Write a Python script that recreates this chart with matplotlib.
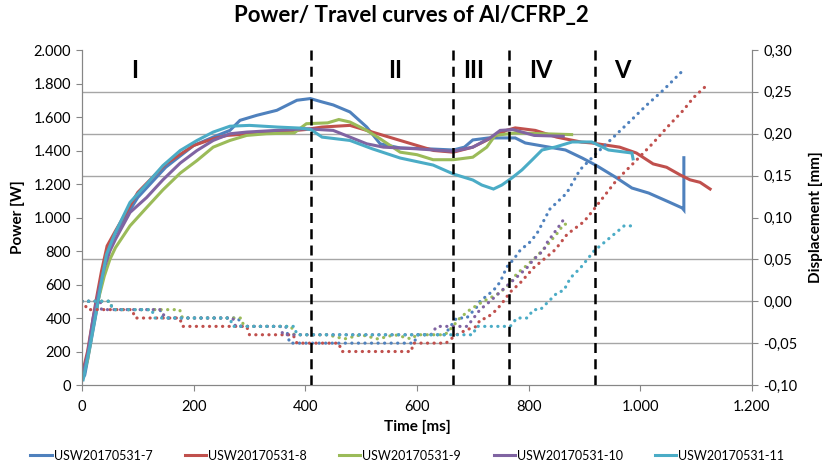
import matplotlib
matplotlib.use('Agg')
import matplotlib.pyplot as plt
from matplotlib.ticker import FuncFormatter

plt.rcParams['font.family'] = ['Lato', 'DejaVu Sans']

names = ['USW20170531-7', 'USW20170531-8', 'USW20170531-9',
         'USW20170531-10', 'USW20170531-11']
colors = ['#4F81BD', '#C0504D', '#9BBB59', '#8064A2', '#4BACC6']

# power curves [W] (time [ms], power)
t_p7 = [0, 5, 14, 26, 35, 44, 59, 100, 150, 200, 235, 265, 283, 313, 349, 361,
        385, 409, 430, 450, 480, 510, 534, 570, 620, 665, 685, 700, 728, 776,
        794, 866, 896, 920, 955, 985, 1015, 1051, 1075, 1078, 1078]
p7 = [30, 60, 220, 440, 620, 780, 900, 1120, 1300, 1430, 1480, 1520, 1580, 1610,
      1640, 1660, 1700, 1710, 1690, 1672, 1630, 1540, 1440, 1415, 1410, 1403,
      1420, 1463, 1475, 1475, 1445, 1403, 1355, 1313, 1242, 1176, 1146, 1093,
      1057, 1045, 1357]
t_p8 = [0, 10, 25, 35, 45, 60, 100, 150, 200, 235, 260, 300, 350, 400, 430, 480,
        510, 540, 570, 600, 630, 665, 700, 730, 760, 776, 812, 850, 895, 913,
        963, 993, 1023, 1047, 1071, 1089, 1107, 1125]
p8 = [60, 200, 500, 680, 830, 920, 1150, 1320, 1430, 1470, 1490, 1500, 1510,
      1525, 1540, 1550, 1520, 1490, 1460, 1430, 1400, 1390, 1420, 1470, 1520,
      1535, 1520, 1480, 1450, 1445, 1420, 1385, 1320, 1300, 1255, 1225, 1210,
      1170]
t_p9 = [0, 10, 20, 30, 40, 50, 60, 86, 116, 145, 176, 206, 235, 265, 295, 330,
        380, 402, 440, 460, 480, 510, 534, 570, 600, 629, 665, 700, 725, 740,
        776, 877]
p9 = [40, 150, 350, 520, 650, 750, 820, 950, 1060, 1165, 1265, 1340, 1420, 1460,
      1490, 1500, 1505, 1560, 1565, 1585, 1570, 1520, 1470, 1390, 1375, 1345,
      1345, 1360, 1420, 1490, 1505, 1495]
t_p10 = [0, 10, 20, 30, 40, 50, 60, 86, 116, 145, 176, 206, 235, 265, 295, 400,
         450, 480, 510, 540, 600, 665, 700, 731, 749, 772, 810, 862]
p10 = [40, 180, 400, 560, 700, 800, 870, 1030, 1120, 1225, 1325, 1400, 1460,
       1500, 1510, 1530, 1520, 1480, 1440, 1420, 1410, 1395, 1420, 1475, 1520,
       1525, 1490, 1485]
t_p11 = [0, 2, 14, 26, 35, 44, 59, 86, 116, 145, 176, 206, 235, 265, 300, 350,
         390, 410, 430, 480, 520, 570, 629, 665, 700, 716, 737, 752, 770, 788,
         806, 824, 848, 878, 913, 943, 985, 987]
p11 = [30, 30, 229, 448, 620, 780, 905, 1090, 1200, 1310, 1400, 1460, 1510,
       1545, 1550, 1540, 1534, 1525, 1480, 1460, 1410, 1355, 1313, 1260, 1224,
       1194, 1170, 1194, 1236, 1284, 1343, 1403, 1421, 1451, 1451, 1403, 1385,
       1350]

# displacement curves [mm] (time [ms], travel)
t_d7 = [0, 50, 55, 140, 145, 280, 285, 365, 372, 595, 600, 650, 660, 671, 689,
        707, 713, 737, 749, 761, 773, 785, 803, 815, 838, 868, 892, 922, 952,
        988, 1011, 1041, 1059, 1077]
d7 = [0.0, 0.0, -0.01, -0.01, -0.02, -0.02, -0.03, -0.03, -0.05, -0.05, -0.04,
      -0.04, -0.03, -0.02, -0.02, -0.007, 0.0, 0.013, 0.023, 0.041, 0.05, 0.061,
      0.071, 0.081, 0.11, 0.129, 0.157, 0.177, 0.196, 0.219, 0.234, 0.252,
      0.264, 0.276]
t_d8 = [0, 5, 10, 90, 95, 175, 180, 295, 300, 378, 385, 460, 465, 590, 593, 652,
        659, 671, 689, 707, 713, 725, 743, 755, 767, 785, 809, 827, 845, 854,
        869, 899, 916, 958, 988, 1023, 1047, 1077, 1095, 1116, 1122]
d8 = [0.0, -0.004, -0.01, -0.01, -0.02, -0.02, -0.03, -0.03, -0.04, -0.04,
      -0.05, -0.05, -0.06, -0.06, -0.05, -0.05, -0.046, -0.04, -0.034, -0.03,
      -0.022, -0.02, -0.01, 0.0, 0.011, 0.022, 0.04, 0.05, 0.06, 0.067, 0.08,
      0.095, 0.109, 0.145, 0.165, 0.189, 0.207, 0.228, 0.243, 0.256, 0.26]
t_d9 = [0, 50, 55, 175, 180, 285, 290, 375, 380, 440, 470, 500, 530, 560, 590,
        600, 650, 659, 677, 695, 719, 743, 761, 779, 797, 815, 833, 851, 863,
        877]
d9 = [0.0, 0.0, -0.01, -0.01, -0.02, -0.02, -0.03, -0.03, -0.04, -0.04,
      -0.045, -0.04, -0.045, -0.04, -0.045, -0.04, -0.04, -0.034, -0.02, -0.01,
      0.0, 0.008, 0.017, 0.033, 0.043, 0.054, 0.067, 0.081, 0.092, 0.092]
t_d10 = [0, 33, 35, 140, 150, 270, 275, 355, 360, 625, 630, 636, 690, 713, 731,
         749, 767, 779, 797, 809, 827, 833, 845, 857, 862]
d10 = [0.0, 0.0, -0.01, -0.01, -0.02, -0.02, -0.03, -0.03, -0.04, -0.04,
       -0.035, -0.03, -0.03, -0.01, 0.0, 0.011, 0.022, 0.029, 0.04, 0.05, 0.061,
       0.07, 0.081, 0.092, 0.097]
t_d11 = [0, 50, 55, 125, 130, 265, 270, 380, 385, 700, 707, 767, 779, 797, 809,
         821, 839, 851, 863, 875, 893, 905, 917, 935, 953, 971, 983]
d11 = [0.0, 0.0, -0.01, -0.01, -0.02, -0.02, -0.03, -0.03, -0.04, -0.04, -0.03,
       -0.03, -0.02, -0.02, -0.01, -0.01, 0.002, 0.01, 0.013, 0.028, 0.04, 0.05,
       0.06, 0.07, 0.08, 0.09, 0.09]

power = [(t_p7, p7), (t_p8, p8), (t_p9, p9), (t_p10, p10), (t_p11, p11)]
travel = [(t_d7, d7), (t_d8, d8), (t_d9, d9), (t_d10, d10), (t_d11, d11)]

phase_bounds = [410, 665, 765, 918]
phase_labels = ['I', 'II', 'III', 'IV', 'V']
phase_x = [95, 561, 702, 822, 967]

grey = '#868686'

fig = plt.figure(figsize=(8.23, 4.66), dpi=100)
ax = fig.add_axes([0.0996, 0.1738, 0.8141, 0.7189])
ax2 = ax.twinx()

for (t, p), c, n in zip(power, colors, names):
    ax.plot(t, p, color=c, lw=2.2, label=n, solid_joinstyle='miter')
for (t, d), c in zip(travel, colors):
    ax2.plot(t, d, color=c, lw=2.3, linestyle=(0, (0.05, 2.0)),
             dash_capstyle='round')

for x in phase_bounds:
    ax2.axvline(x, color='black', lw=1.8, linestyle=(0, (4, 2.5)), zorder=5)
for x, lab in zip(phase_x, phase_labels):
    ax2.text(x, 0.275, lab, ha='center', va='center', fontsize=17,
             fontweight='bold', zorder=6)

ax.set_xlim(0, 1200)
ax.set_ylim(0, 2000)
ax2.set_ylim(-0.10, 0.30)
ax.set_xticks(range(0, 1201, 200))
ax.set_yticks(range(0, 2001, 200))
ax.set_yticks(range(0, 2001, 250), minor=True)
ax2.set_yticks([-0.10 + 0.05 * i for i in range(9)])
ax.grid(which='minor', axis='y', color='#a6a6a6', lw=1)
ax.set_axisbelow(True)
ax.tick_params(axis='y', which='minor', length=0)

thou = FuncFormatter(lambda v, pos: f'{int(round(v)):,}'.replace(',', '.'))
ax.xaxis.set_major_formatter(thou)
ax.yaxis.set_major_formatter(thou)
ax2.yaxis.set_major_formatter(
    FuncFormatter(lambda v, pos: f'{v:.2f}'.replace('.', ',')))

for a in (ax, ax2):
    for s in a.spines.values():
        s.set_color(grey)
    a.spines['top'].set_visible(False)
    a.tick_params(which='major', length=4, color=grey, labelsize=10.5,
                  direction='out', pad=4)
ax.tick_params(axis='x', pad=7)

ax.set_xlabel('Time [ms]', fontsize=11, fontweight='bold', labelpad=4)
ax.set_ylabel('Power [W]', fontsize=11, fontweight='bold', labelpad=6)
ax2.set_ylabel('Displacement [mm]', fontsize=11, fontweight='bold', labelpad=8)
fig.suptitle('Power/ Travel curves of Al/CFRP_2', fontsize=16,
             fontweight='bold', y=0.99)

fig.legend(loc='lower center', bbox_to_anchor=(0.495, -0.015), ncol=5,
           frameon=False, fontsize=9, handlelength=1.7, handletextpad=0.15,
           columnspacing=2.6)

fig.savefig('out.png', dpi=100)
